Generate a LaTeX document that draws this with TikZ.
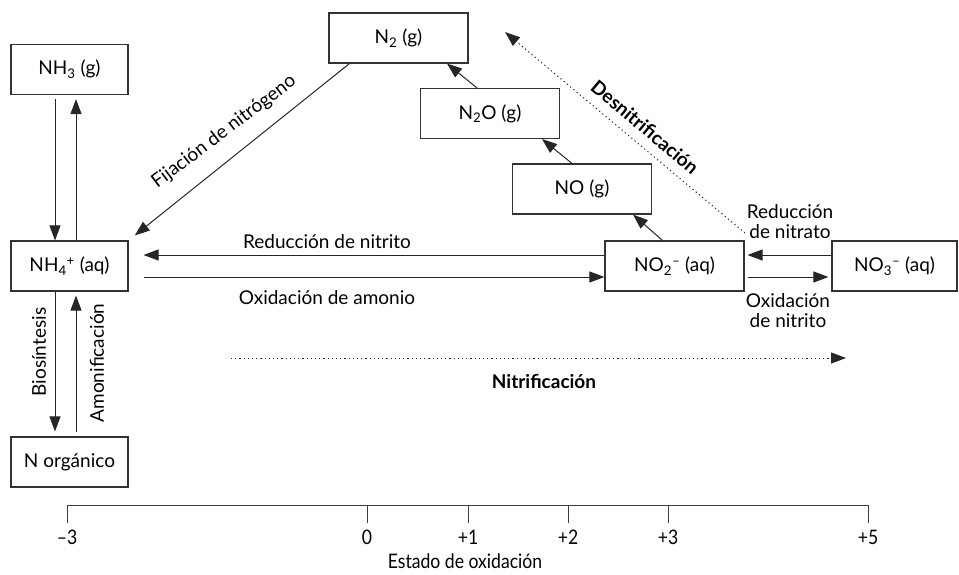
\documentclass[tikz,border=0pt]{standalone}
\usepackage{fontspec}
\setmainfont{Lato}
\newfontfamily\axisfont{Lato}[FakeStretch=0.88]
\usetikzlibrary{arrows.meta}
\tikzset{
  box/.style={draw=black!80,line width=1.1pt,fill=white,minimum width=139pt,
    minimum height=50pt,inner sep=0pt,font=\fontsize{19}{20}\selectfont},
  flow/.style={draw=black!85,line width=1pt,-{Triangle[length=15pt,width=11pt]}},
  trend/.style={flow,dash pattern=on 1.2pt off 3pt},
  lbl/.style={inner sep=0pt,font=\fontsize{19}{20}\selectfont,align=center},
  axis/.style={draw=black!75,line width=1pt},
}
\begin{document}
\begin{tikzpicture}[x=1pt,y=-1pt]
  \useasboundingbox (0,0) rectangle (959,574);
  % species
  \node[box,minimum width=117pt] (nh3) at (69.5,69.5) {NH\textsubscript{3} (g)};
  \node[box,minimum width=117pt] (nh4) at (69.5,266) {NH\textsubscript{4}\textsuperscript{+} (aq)};
  \node[box,minimum width=117pt] (norg) at (69.5,462) {N orgánico};
  \node[box] (n2) at (398.5,38) {N\textsubscript{2} (g)};
  \node[box] (n2o) at (490,113.5) {N\textsubscript{2}O (g)};
  \node[box] (no) at (582,189) {NO (g)};
  \node[box] (no2) at (674.5,266) {NO\textsubscript{2}\textsuperscript{–} (aq)};
  \node[box,minimum width=125pt] (no3) at (894.5,266) {NO\textsubscript{3}\textsuperscript{–} (aq)};
  % NH3 <-> NH4+
  \draw[flow,shorten <=4pt] ([xshift=-14.5pt]nh3.south) -- ([xshift=-14.5pt]nh4.north);
  \draw[flow,shorten >=4pt] ([xshift=6.5pt]nh4.north) -- ([xshift=6.5pt]nh3.south);
  % NH4+ <-> N organico
  \draw[flow,shorten >=5pt] ([xshift=-14.5pt]nh4.south) -- ([xshift=-14.5pt]norg.north);
  \draw[flow,shorten <=4pt,shorten >=4pt] ([xshift=6.5pt]norg.north) -- ([xshift=6.5pt]nh4.south);
  \node[lbl,rotate=90] (biosint) at (39,352) {Biosíntesis};
  \node[lbl,rotate=90] (amonif) at (97,363) {Amonificación};
  % fijacion
  \draw[flow,shorten >=8pt] ([xshift=21pt]n2.south west) -- (nh4.north east);
  \node[lbl,rotate=37] (fijac) at (224,132) {Fijación de nitrógeno};
  % NH4+ <-> NO2-
  \draw[flow,shorten >=15pt] ([yshift=11pt]no2.west) -- ([yshift=11pt]nh4.east);
  \draw[flow,shorten <=15pt] ([yshift=-11pt]nh4.east) -- ([yshift=-11pt]no2.west);
  \node[lbl] (rednitrito) at (327,242) {Reducción de nitrito};
  \node[lbl] (oxamonio) at (327,298) {Oxidación de amonio};
  % NO2- <-> NO3-
  \draw[flow,shorten >=3pt] ([yshift=11pt]no3.west) -- ([yshift=11pt]no2.east);
  \draw[flow,shorten <=3pt,shorten >=3pt] ([yshift=-11pt]no2.east) -- ([yshift=-11pt]no3.west);
  \node[lbl] (rednitrato) at (790,222) {Reducción\\de nitrato};
  \node[lbl] (oxnitrito) at (788,311) {Oxidación\\de nitrito};
  % reduction chain
  \draw[flow] ([xshift=-12pt]no2.north) -- ([xshift=51pt]no.south);
  \draw[flow] ([xshift=-10pt]no.north) -- ([xshift=52pt]n2o.south);
  \draw[flow] ([xshift=-13pt]n2o.north) -- ([xshift=48.5pt]n2.south);
  % overall trends
  \coordinate (den-a) at (745,233);
  \coordinate (den-b) at (505,32);
  \draw[trend] (den-a) -- (den-b);
  \node[lbl,font=\fontsize{19}{20}\selectfont\bfseries,rotate=-40] (desnit) at (645,127) {Desnitrificación};
  \coordinate (nit-a) at (231,358);
  \coordinate (nit-b) at (846,358);
  \draw[trend] (nit-a) -- (nit-b);
  \node[lbl,font=\fontsize{19}{20}\selectfont\bfseries] (nitrif) at (544,381) {Nitrificación};
  % oxidation state axis
  \draw[axis] (67,505) -- (868,505);
  \foreach \x/\v in {67/{–3},367/0,468/+1,568/+2,668/+3,868/+5}{
    \draw[axis] (\x,505) -- (\x,523);
    \node[inner sep=0pt,font=\axisfont\fontsize{20}{22}\selectfont] (tick\x) at (\x,537) {\v};
  }
  \node[inner sep=0pt,font=\axisfont\fontsize{20}{22}\selectfont] (estado) at (465,561) {Estado de oxidación};
\end{tikzpicture}
\end{document}
